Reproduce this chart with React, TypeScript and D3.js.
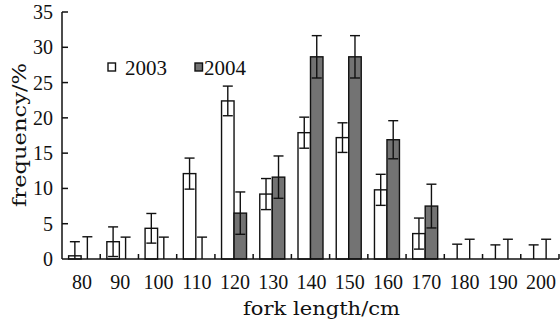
import React from 'react';
import * as d3 from 'd3';

const categories = ['80', '90', '100', '110', '120', '130', '140', '150', '160', '170', '180', '190', '200'];
const seriesNames = ['2003', '2004'];
const values2003 = [0.45, 2.45, 4.35, 12.1, 22.4, 9.2, 17.9, 17.2, 9.8, 3.6, 0, 0, 0];
const errors2003 = [2.0, 2.1, 2.1, 2.2, 2.1, 2.2, 2.2, 2.1, 2.2, 2.2, 2.1, 2.0, 2.0];
const values2004 = [0, 0, 0, 0, 6.5, 11.6, 28.65, 28.65, 16.9, 7.5, 0, 0, 0];
const errors2004 = [3.15, 3.1, 3.1, 3.1, 3.0, 3.0, 3.0, 3.0, 2.7, 3.1, 2.8, 2.8, 2.8];
const yTicks = [0, 5, 10, 15, 20, 25, 30, 35];
const xTitle = 'fork length/cm';
const yTitle = 'frequency/%';

const W = 560;
const H = 324;
const x0 = 62;
const x1 = 559;
const yBase = 259;
const yTop = 12;

export default function App() {
  const x = d3.scaleBand<string>().domain(categories).range([x0, x1]).paddingInner(0).paddingOuter(0);
  const inner = d3.scaleBand<string>().domain(seriesNames).range([0, x.bandwidth()]).paddingInner(0).paddingOuter(0.53);
  const y = d3.scaleLinear().domain([0, 35]).range([yBase, yTop]);
  const fills = ['#ffffff', '#737373'];
  const data = [
    { name: '2003', vals: values2003, errs: errors2003 },
    { name: '2004', vals: values2004, errs: errors2004 },
  ];
  const stroke = '#111';
  const capW = 10;
  const serif = { fontFamily: "'Liberation Serif', 'DejaVu Serif', serif" };
  const titleFont = { fontFamily: "'DejaVu Serif', 'Liberation Serif', serif" };

  return (
    <svg width={W} height={H} style={{ position: 'absolute', left: 0, top: 0, background: '#fff' }}>
      {data.map((s, si) =>
        categories.map((c, i) => {
          const v = s.vals[i];
          if (v <= 0) return null;
          const bx = (x(c) as number) + (inner(s.name) as number);
          return (
            <rect key={`b${si}-${i}`} x={bx} y={y(v)} width={inner.bandwidth()} height={yBase - y(v)}
              fill={fills[si]} stroke={stroke} strokeWidth={1.4} />
          );
        })
      )}
      {data.map((s, si) =>
        categories.map((c, i) => {
          const v = s.vals[i];
          const e = s.errs[i];
          const cx = (x(c) as number) + (inner(s.name) as number) + inner.bandwidth() / 2;
          const hi = y(v + e);
          const loV = Math.max(0, v - e);
          const lo = y(loV);
          return (
            <g key={`e${si}-${i}`} stroke={stroke} strokeWidth={1.4}>
              <line x1={cx} x2={cx} y1={hi} y2={lo} />
              <line x1={cx - capW / 2} x2={cx + capW / 2} y1={hi} y2={hi} />
              {loV > 0 && <line x1={cx - capW / 2} x2={cx + capW / 2} y1={lo} y2={lo} />}
            </g>
          );
        })
      )}
      <line x1={x0} x2={x0} y1={yTop} y2={yBase} stroke={stroke} strokeWidth={1.5} />
      <line x1={x0} x2={x1} y1={yBase} y2={yBase} stroke={stroke} strokeWidth={1.5} />
      {yTicks.map((t) => (
        <g key={`yt${t}`}>
          {t > 0 && <line x1={x0} x2={x0 + 6} y1={y(t)} y2={y(t)} stroke={stroke} strokeWidth={1.5} />}
          <text x={53} y={y(t)} dy="0.35em" textAnchor="end" fontSize={20} fill="#111" style={serif}>{t}</text>
        </g>
      ))}
      {categories.map((c, i) => (
        <g key={`xt${c}`}>
          {i > 0 && <line x1={x(c)} x2={x(c)} y1={yBase} y2={yBase - 5} stroke={stroke} strokeWidth={1.5} />}
          <text x={(x(c) as number) + x.bandwidth() / 2 + 1} y={289} textAnchor="middle" fontSize={20} fill="#111" style={serif}>{c}</text>
        </g>
      ))}
      <line x1={x1} x2={x1} y1={yBase} y2={yBase - 5} stroke={stroke} strokeWidth={1.5} />
      <text x={321.5} y={315} textAnchor="middle" fontSize={18} textLength={157} lengthAdjust="spacingAndGlyphs" fill="#111" style={titleFont}>{xTitle}</text>
      <text transform="translate(26,135) rotate(-90)" textAnchor="middle" fontSize={18} textLength={144} lengthAdjust="spacingAndGlyphs" fill="#111" style={titleFont}>{yTitle}</text>
      <rect x={108} y={63} width={7.5} height={8} fill={fills[0]} stroke={stroke} strokeWidth={1.4} />
      <text x={125} y={75} fontSize={21} fill="#111" style={serif}>{seriesNames[0]}</text>
      <rect x={195} y={63} width={7.5} height={8} fill={fills[1]} stroke={stroke} strokeWidth={1.4} />
      <text x={204} y={75} fontSize={21} fill="#111" style={serif}>{seriesNames[1]}</text>
    </svg>
  );
}
